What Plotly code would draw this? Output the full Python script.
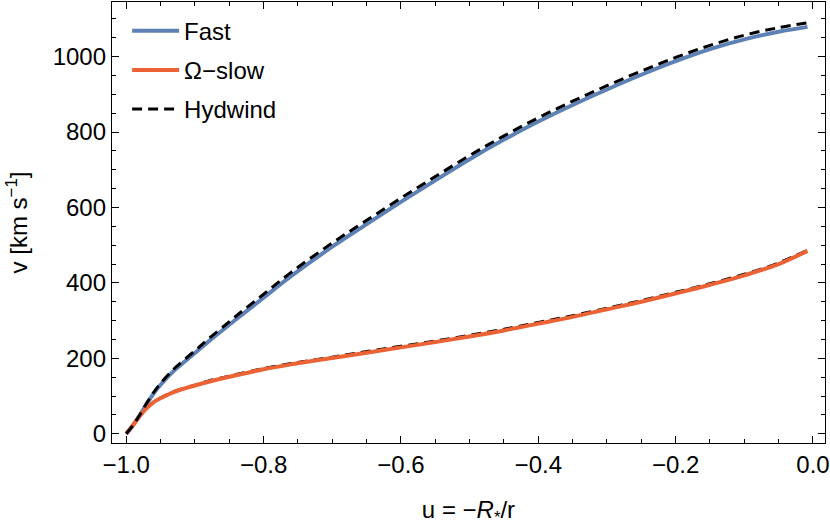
import plotly.graph_objects as go

u = [-1.0, -0.99, -0.98, -0.97, -0.96, -0.95, -0.93, -0.9, -0.88, -0.85, -0.83, -0.8,
     -0.76, -0.7, -0.65, -0.6, -0.55, -0.5, -0.45, -0.4, -0.35, -0.3, -0.25, -0.2,
     -0.15, -0.1, -0.05, -0.008]
v_fast = [0, 23, 50, 80, 107, 130, 168, 214, 245, 289, 318, 361,
          418, 496, 556, 615, 672, 728, 780, 828, 872, 913, 952, 988,
          1020, 1046, 1066, 1079]
v_hyd_fast = [0, 23, 51, 82, 110, 134, 173, 220, 252, 297, 327, 370,
              428, 506, 566, 625, 682, 738, 790, 838, 882, 923, 962, 998,
              1030, 1057, 1077, 1090]
v_slow = [0, 23, 48, 68, 84, 94, 111, 128, 138, 151, 159, 171,
          184, 201, 215, 229, 243, 258, 274, 292, 310, 330, 350, 372,
          395, 420, 450, 485]
v_hyd_slow = [0, 23, 48, 68, 84, 95, 112, 129, 140, 153, 161, 173,
              186, 203, 218, 232, 246, 261, 277, 295, 313, 333, 353, 375,
              398, 423, 453, 487]

BLUE = "#5E81B5"
ORANGE = "#EB6235"
FONT = "Liberation Sans, Arial, sans-serif"
FS = 24

fig = go.Figure()
fig.add_trace(go.Scatter(x=u, y=v_fast, mode="lines", name="Fast", legendgroup="a",
                         line=dict(color=BLUE, width=4, shape="spline", smoothing=1)))
fig.add_trace(go.Scatter(x=u, y=v_hyd_slow, mode="lines", name="Hydwind slow",
                         showlegend=False,
                         line=dict(color="black", width=3, dash="10px,6px",
                                   shape="spline", smoothing=1)))
fig.add_trace(go.Scatter(x=u, y=v_slow, mode="lines", name="\u03a9\u2212slow", legendgroup="b",
                         line=dict(color=ORANGE, width=4, shape="spline", smoothing=1)))
fig.add_trace(go.Scatter(x=u, y=v_hyd_fast, mode="lines", name="Hydwind", legendgroup="c",
                         line=dict(color="black", width=3, dash="10px,6px",
                                   shape="spline", smoothing=1)))

axis_common = dict(
    showline=True, linecolor="black", linewidth=1.3, mirror="allticks",
    ticks="inside", ticklen=7, tickwidth=1.3, tickcolor="black",
    showgrid=False, zeroline=False, automargin=False,
    tickfont=dict(family=FONT, size=FS, color="black"),
)

fig.update_xaxes(
    range=[-1.0208, 0.0175], tickvals=[-1.0, -0.8, -0.6, -0.4, -0.2, 0.0],
    ticktext=["\u22121.0", "\u22120.8", "\u22120.6", "\u22120.4", "\u22120.2", "0.0"],
    minor=dict(dtick=0.05, tick0=0, ticks="inside", ticklen=4, tickwidth=1.1,
               tickcolor="black", showgrid=False),
    title=dict(text="u = \u2212<i>R</i><sub>*</sub>/r", standoff=39,
               font=dict(family=FONT, size=FS, color="black")),
    **axis_common)
fig.update_yaxes(
    range=[-24.6, 1145], tickvals=[0, 200, 400, 600, 800, 1000],
    minor=dict(dtick=50, tick0=0, ticks="inside", ticklen=4, tickwidth=1.1,
               tickcolor="black", showgrid=False),
    title=dict(text="v [km s<sup>\u22121</sup>]", standoff=18,
               font=dict(family=FONT, size=FS, color="black")),
    **axis_common)

fig.update_layout(
    width=830, height=527,
    margin=dict(l=112, r=5, t=2, b=84, autoexpand=False),
    paper_bgcolor="white", plot_bgcolor="white",
    font=dict(family=FONT, size=FS, color="black"),
    legend=dict(x=0.0212, y=0.985, xanchor="left", yanchor="top",
                bgcolor="rgba(0,0,0,0)", font=dict(family=FONT, size=FS),
                tracegroupgap=5, itemwidth=47),
)

fig.write_html("out.html", config={"displayModeBar": False},
               post_script="document.body.style.margin='0';document.body.style.overflow='hidden';")
